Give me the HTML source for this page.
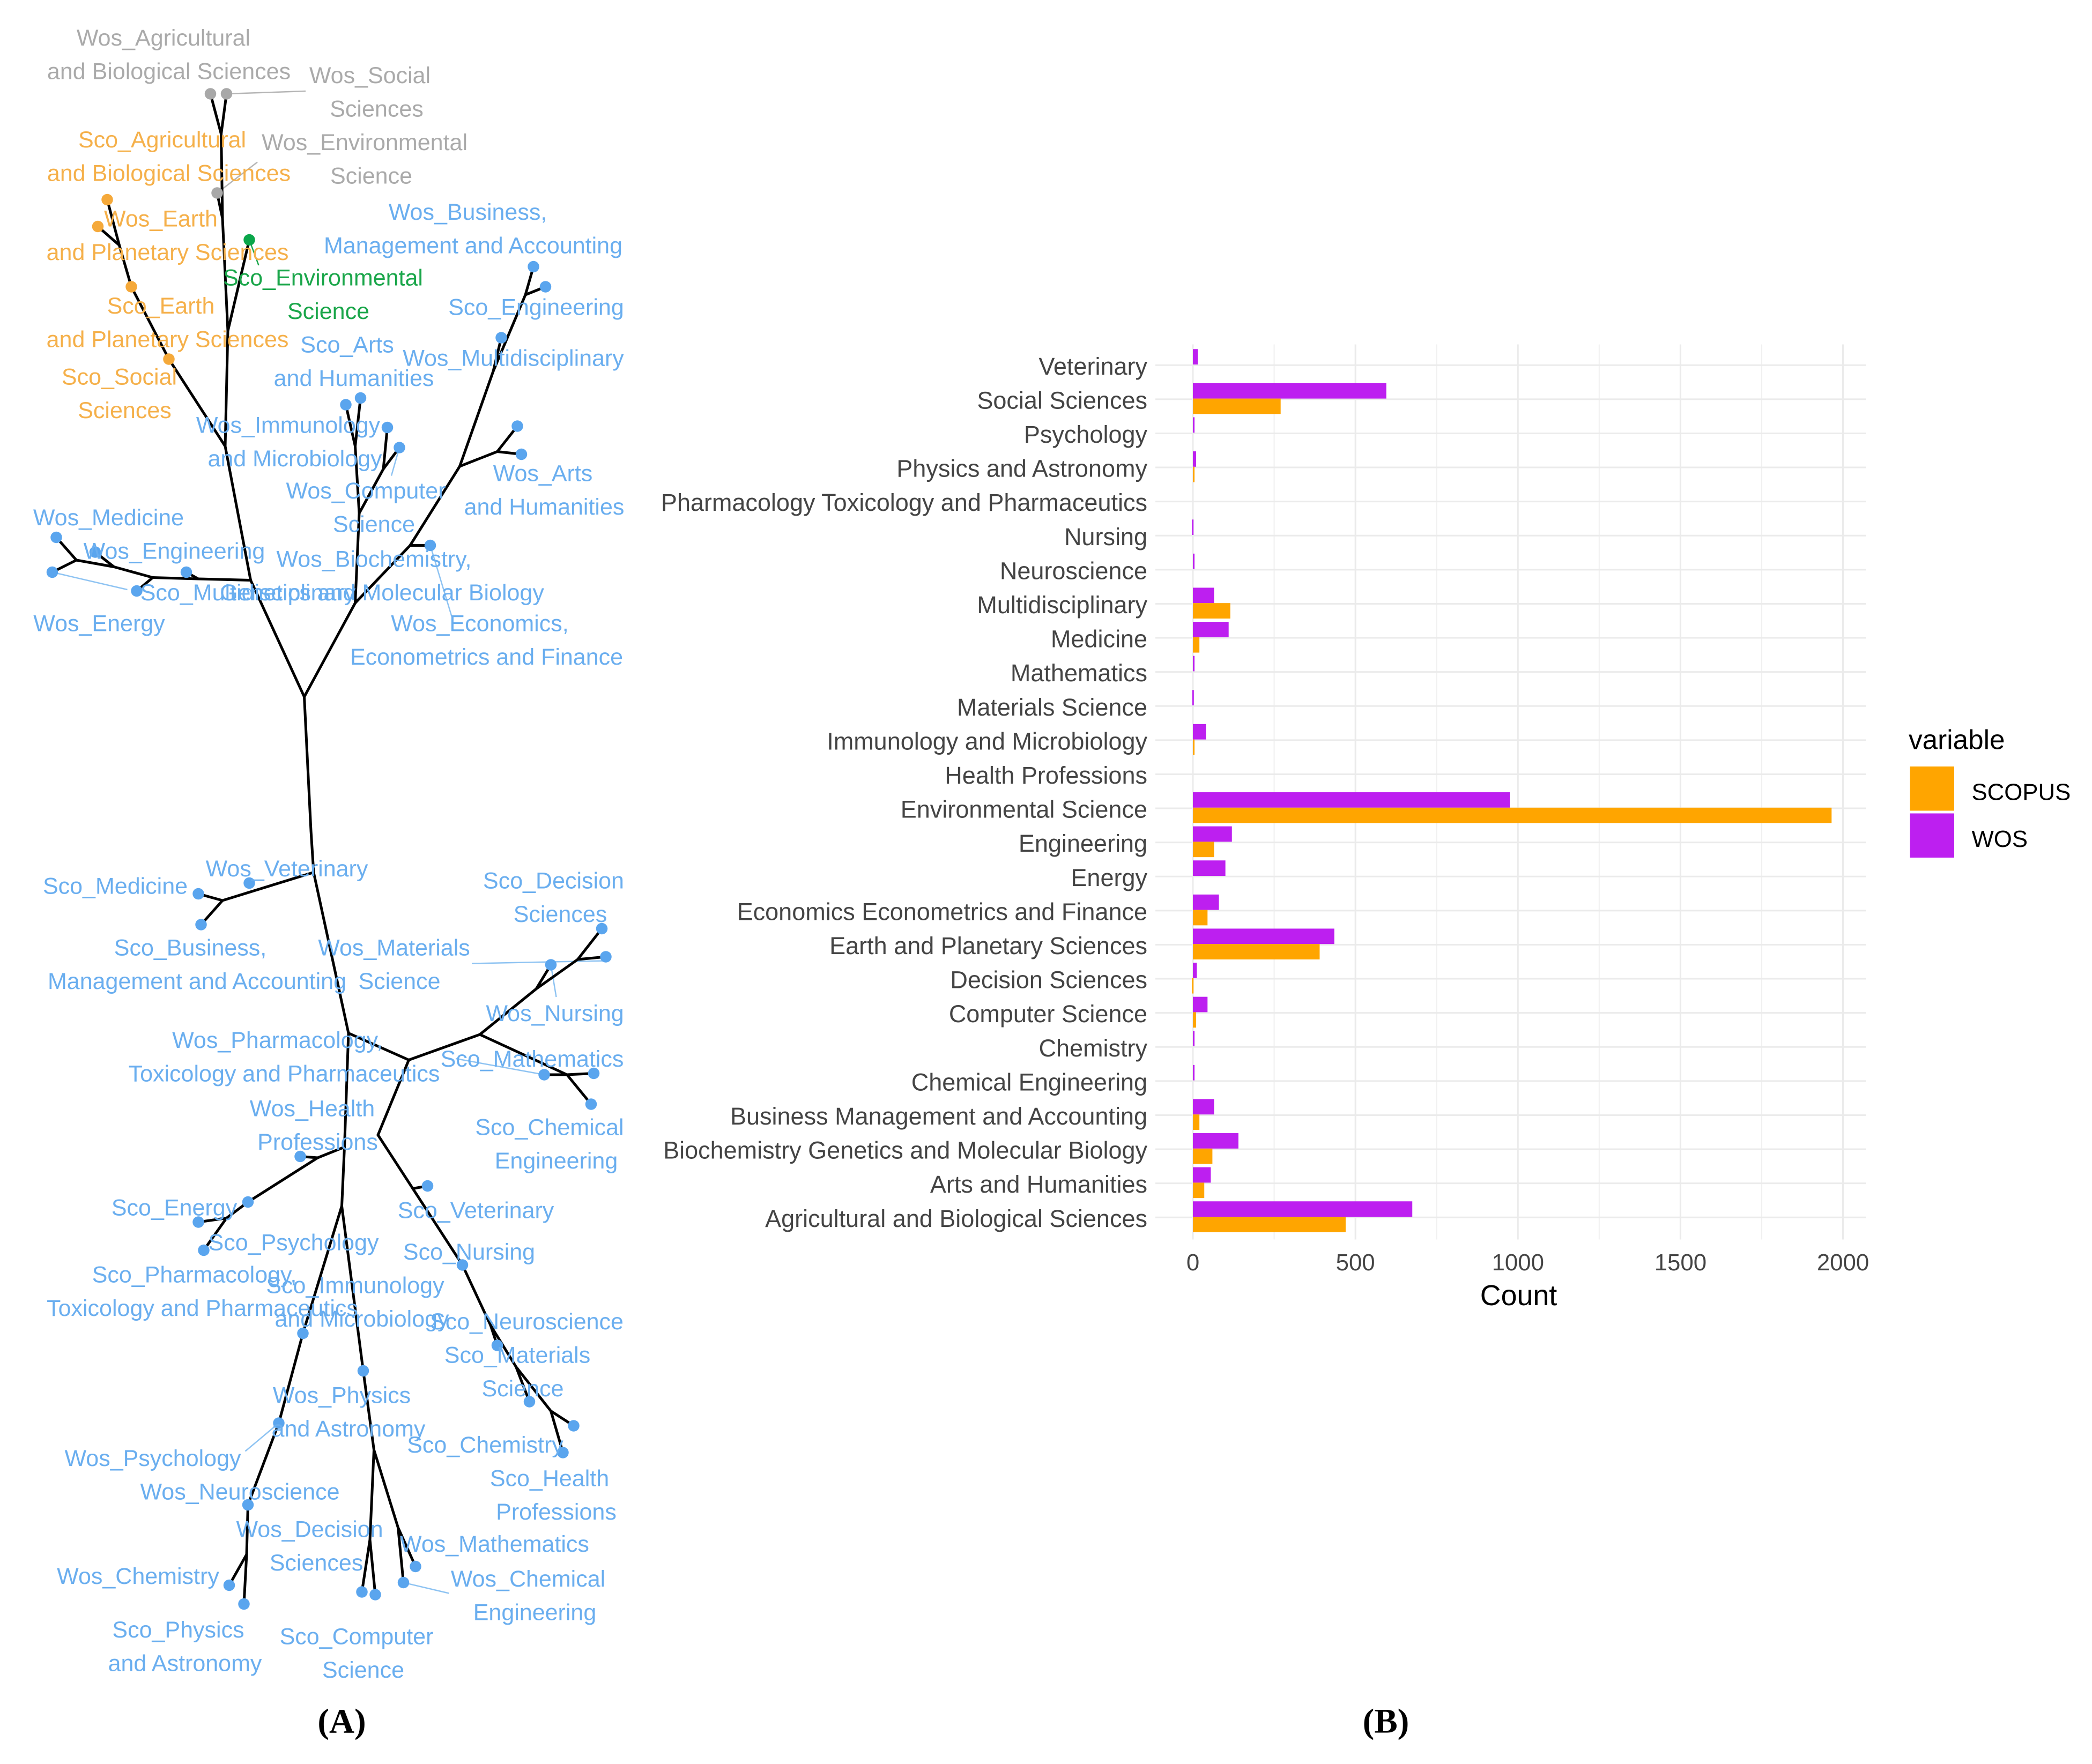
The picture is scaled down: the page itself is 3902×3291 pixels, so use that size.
<!DOCTYPE html>
<html><head><meta charset="utf-8"><style>
html,body{margin:0;padding:0;background:#fff;}
svg{display:block;}
.t{font-family:"Liberation Sans",sans-serif;font-size:17.2px;text-anchor:middle;}
.b{fill:#6aaeef}.o{fill:#f5b04a}.g{fill:#aaaaaa}.gr{fill:#1aa64a}
.cat{font-family:"Liberation Sans",sans-serif;font-size:18px;fill:#444;text-anchor:end;}
</style></head><body>
<svg id="fig" width="3902" height="3291" viewBox="0 0 1560.8 1316.4" xmlns="http://www.w3.org/2000/svg">
<rect width="1560.8" height="1316.4" fill="#fff"/>
<g id="tree"></g>
<g id="labels">
<text class="t g" x="122" y="34">Wos_Agricultural</text><text class="t g" x="126" y="59">and Biological Sciences</text>
<text class="t g" x="276" y="62">Wos_Social</text><text class="t g" x="281" y="87">Sciences</text>
<text class="t g" x="272" y="112">Wos_Environmental</text><text class="t g" x="277" y="137">Science</text>
<text class="t o" x="121" y="110">Sco_Agricultural</text><text class="t o" x="126" y="135">and Biological Sciences</text>
<text class="t o" x="120" y="169">Wos_Earth</text><text class="t o" x="125" y="194">and Planetary Sciences</text>
<text class="t o" x="120" y="234">Sco_Earth</text><text class="t o" x="125" y="259">and Planetary Sciences</text>
<text class="t o" x="89" y="287">Sco_Social</text><text class="t o" x="93" y="312">Sciences</text>
<text class="t gr" x="241" y="213">Sco_Environmental</text><text class="t gr" x="245" y="238">Science</text>
<text class="t b" x="349" y="164">Wos_Business,</text><text class="t b" x="353" y="189">Management and Accounting</text>
<text class="t b" x="400" y="235">Sco_Engineering</text>
<text class="t b" x="259" y="263">Sco_Arts</text><text class="t b" x="264" y="288">and Humanities</text>
<text class="t b" x="383" y="273">Wos_Multidisciplinary</text>
<text class="t b" x="215" y="323">Wos_Immunology</text><text class="t b" x="220" y="348">and Microbiology</text>
<text class="t b" x="405" y="359">Wos_Arts</text><text class="t b" x="406" y="384">and Humanities</text>
<text class="t b" x="273" y="372">Wos_Computer</text><text class="t b" x="279" y="397">Science</text>
<text class="t b" x="81" y="392">Wos_Medicine</text>
<text class="t b" x="130" y="417">Wos_Engineering</text>
<text class="t b" x="279" y="423">Wos_Biochemistry,</text>
<text class="t b" x="185" y="448">Sco_Multidisciplinary</text><text class="t b" x="285" y="448">Genetics and Molecular Biology</text>
<text class="t b" x="74" y="471">Wos_Energy</text>
<text class="t b" x="358" y="471">Wos_Economics,</text><text class="t b" x="363" y="496">Econometrics and Finance</text>
<text class="t b" x="86" y="667">Sco_Medicine</text>
<text class="t b" x="214" y="654">Wos_Veterinary</text>
<text class="t b" x="413" y="663">Sco_Decision</text><text class="t b" x="418" y="688">Sciences</text>
<text class="t b" x="142" y="713">Sco_Business,</text><text class="t b" x="147" y="738">Management and Accounting</text>
<text class="t b" x="294" y="713">Wos_Materials</text><text class="t b" x="298" y="738">Science</text>
<text class="t b" x="414" y="762">Wos_Nursing</text>
<text class="t b" x="207" y="782">Wos_Pharmacology,</text><text class="t b" x="212" y="807">Toxicology and Pharmaceutics</text>
<text class="t b" x="397" y="796">Sco_Mathematics</text>
<text class="t b" x="233" y="833">Wos_Health</text><text class="t b" x="237" y="858">Professions</text>
<text class="t b" x="410" y="847">Sco_Chemical</text><text class="t b" x="415" y="872">Engineering</text>
<text class="t b" x="130" y="907">Sco_Energy</text>
<text class="t b" x="355" y="909">Sco_Veterinary</text>
<text class="t b" x="219" y="933">Sco_Psychology</text>
<text class="t b" x="350" y="940">Sco_Nursing</text>
<text class="t b" x="145" y="957">Sco_Pharmacology,</text><text class="t b" x="151" y="982">Toxicology and Pharmaceutics</text>
<text class="t b" x="265" y="965">Sco_Immunology</text><text class="t b" x="270" y="990">and Microbiology</text>
<text class="t b" x="393" y="992">Sco_Neuroscience</text>
<text class="t b" x="386" y="1017">Sco_Materials</text><text class="t b" x="390" y="1042">Science</text>
<text class="t b" x="255" y="1047">Wos_Physics</text><text class="t b" x="260" y="1072">and Astronomy</text>
<text class="t b" x="362" y="1084">Sco_Chemistry</text>
<text class="t b" x="114" y="1094">Wos_Psychology</text>
<text class="t b" x="410" y="1109">Sco_Health</text><text class="t b" x="415" y="1134">Professions</text>
<text class="t b" x="179" y="1119">Wos_Neuroscience</text>
<text class="t b" x="231" y="1147">Wos_Decision</text><text class="t b" x="236" y="1172">Sciences</text>
<text class="t b" x="369" y="1158">Wos_Mathematics</text>
<text class="t b" x="103" y="1182">Wos_Chemistry</text>
<text class="t b" x="394" y="1184">Wos_Chemical</text><text class="t b" x="399" y="1209">Engineering</text>
<text class="t b" x="133" y="1222">Sco_Physics</text><text class="t b" x="138" y="1247">and Astronomy</text>
<text class="t b" x="266" y="1227">Sco_Computer</text><text class="t b" x="271" y="1252">Science</text>
</g>
<g id="bars"></g>
<g>
<text x="1424" y="559" font-family="Liberation Sans, sans-serif" font-size="20.5" fill="#000">variable</text>
<rect x="1425" y="572" width="33" height="33" fill="#ffa500"/>
<rect x="1425" y="607" width="33" height="33" fill="#bd1ff0"/>
<text x="1471" y="597" font-family="Liberation Sans, sans-serif" font-size="17.5" fill="#000">SCOPUS</text>
<text x="1471" y="632" font-family="Liberation Sans, sans-serif" font-size="17.5" fill="#000">WOS</text>
</g>
<text x="255" y="1293" text-anchor="middle" font-family="Liberation Serif, serif" font-weight="bold" font-size="26">(A)</text>
<text x="1034" y="1293" text-anchor="middle" font-family="Liberation Serif, serif" font-weight="bold" font-size="26">(B)</text>
</svg>
<script>
const categories=["Veterinary","Social Sciences","Psychology","Physics and Astronomy","Pharmacology Toxicology and Pharmaceutics","Nursing","Neuroscience","Multidisciplinary","Medicine","Mathematics","Materials Science","Immunology and Microbiology","Health Professions","Environmental Science","Engineering","Energy","Economics Econometrics and Finance","Earth and Planetary Sciences","Decision Sciences","Computer Science","Chemistry","Chemical Engineering","Business Management and Accounting","Biochemistry Genetics and Molecular Biology","Arts and Humanities","Agricultural and Biological Sciences"];
const wosValues=[15,595,3,10,0,-3,3,65,110,3,-2,40,0,975,120,100,80,435,12,45,3,3,65,140,55,675];
const scopusValues=[0,270,0,3,0,0,0,115,20,0,0,3,0,1965,65,0,45,390,-3,10,0,0,20,60,35,470];
const tickValues=[0,500,1000,1500,2000];
const minorTicks=[250,750,1250,1750];

const NS="http://www.w3.org/2000/svg";
function mk(tag,attrs,parent){const e=document.createElementNS(NS,tag);for(const k in attrs)e.setAttribute(k,attrs[k]);parent.appendChild(e);return e;}
const bars=document.getElementById('bars');
const xS=v=>890+v*0.2425;
const yTop=273.5, yBot=909.5;
const yS=i=>yTop+i*(yBot-yTop)/(categories.length-1);
const plotL=862, plotR=1392, plotT=257, plotB=925;
minorTicks.forEach(v=>{const l=mk('line',{x1:xS(v),x2:xS(v),y1:plotT,y2:plotB,stroke:'#f0f0f0','stroke-width':0.8},bars);

});
tickValues.forEach(v=>{const l=mk('line',{x1:xS(v),x2:xS(v),y1:plotT,y2:plotB,stroke:'#ebebeb','stroke-width':1.2},bars);


const t=mk('text',{x:xS(v),y:948,'text-anchor':'middle','font-family':'Liberation Sans, sans-serif','font-size':17.5,fill:'#444'},bars);
t.textContent=v;

});
categories.forEach((c,i)=>{const yc=yS(i)-1;
const l=mk('line',{x1:plotL,x2:plotR,y1:yc,y2:yc,stroke:'#ebebeb','stroke-width':1.2},bars);


const t=mk('text',{x:856,y:yS(i)+6,class:'cat'},bars);t.textContent=c;

});
categories.forEach((c,i)=>{const yc=yS(i)-1.5;
const w=wosValues[i], s=scopusValues[i];
const bw=mk('rect',{x:Math.min(xS(0),xS(w)),y:yc-11.5,width:Math.max(Math.abs(xS(w)-xS(0)),w!==0?1.2:0),height:11.5,fill:'#bd1ff0'},bars);


const bs=mk('rect',{x:Math.min(xS(0),xS(s)),y:yc,width:Math.max(Math.abs(xS(s)-xS(0)),s!==0?1.2:0),height:11.5,fill:'#ffa500'},bars);

});
const xt=mk('text',{x:1133,y:974,'text-anchor':'middle','font-family':'Liberation Sans, sans-serif','font-size':21.5,fill:'#000'},bars);
xt.textContent='Count';



const tree=document.getElementById('tree');
const edges=[
[227,520,187,433],[187,433,168,333],[168,333,170,247],[170,247,166,163],[166,163,165,100],[165,100,157,70],[165,100,169,70],[166,163,162,144],[170,247,186,179],
[168,333,126,268],[126,268,98,214],[98,214,89,183],[89,183,80,149],[89,183,73,169],
[187,433,148,432],[148,432,114,431],[114,431,85,423],[85,423,57,418],[148,432,139,427],[114,431,102,441],[85,423,71,412],[57,418,42,401],[57,418,39,427],
[227,520,265,450],[265,450,268,383],[268,383,265,333],[265,333,258,302],[265,333,269,297],[268,383,286,350],[286,350,289,319],[286,350,298,334],
[265,450,306,407],[306,407,321,407],[306,407,343,348],[343,348,371,337],[371,337,386,318],[371,337,389,339],[343,348,368,277],[368,277,374,252],[368,277,392,220],[392,220,398,199],[392,220,407,214],
[227,520,232,620],[232,620,234,651],[234,651,166,672],[166,672,148,667],[166,672,150,690],
[234,651,260,771],[260,771,305,791],[305,791,358,772],[358,772,400,738],[400,738,431,716],[400,738,411,720],[431,716,449,693],[431,716,452,714],[358,772,423,802],[423,802,406,802],[423,802,443,801],[423,802,441,824],
[305,791,282,847],[282,847,308,887],[308,887,319,885],[308,887,345,944],[345,944,366,989],[366,989,371,1004],[366,989,385,1020],[385,1020,395,1046],[385,1020,411,1053],[411,1053,428,1064],[411,1053,420,1084],
[260,771,257,856],[257,856,237,864],[237,864,224,863],[237,864,185,897],[185,897,169,909],[169,909,148,912],[169,909,152,933],
[257,856,255,900],[255,900,226,995],[226,995,208,1062],[208,1062,185,1123],[185,1123,184,1160],[184,1160,171,1183],[184,1160,182,1197],
[255,900,271,1023],[271,1023,279,1082],[279,1082,276,1149],[276,1149,270,1188],[276,1149,280,1190],[279,1082,297,1140],[297,1140,310,1169],[297,1140,301,1181]];
const leaders=[[169,70,228,68,'#b5b5b5'],[162,144,192,121,'#b5b5b5'],[186,179,193,198,'#1aa64a'],[39,427,95,440,'#8ec3f2'],[321,407,337,460,'#8ec3f2'],[298,334,292,355,'#8ec3f2'],
[352,719,452,717,'#8ec3f2'],[411,720,415,744,'#8ec3f2'],[406,802,340,790,'#8ec3f2'],[208,1062,183,1083,'#8ec3f2'],[301,1181,335,1189,'#8ec3f2']];
const nodes=[[157,70,'#a8a8a8'],[169,70,'#a8a8a8'],[162,144,'#a8a8a8'],[186,179,'#0aa64a'],[80,149,'#f5a93a'],[73,169,'#f5a93a'],[98,214,'#f5a93a'],[126,268,'#f5a93a'],
[139,427],[102,441],[71,412],[42,401],[39,427],[258,302],[269,297],[289,319],[298,334],[321,407],[386,318],[389,339],[374,252],[398,199],[407,214],
[148,667],[150,690],[186,659],[411,720],[449,693],[452,714],[406,802],[443,801],[441,824],[319,885],[345,944],[371,1004],[395,1046],[428,1064],[420,1084],
[224,863],[185,897],[148,912],[152,933],[226,995],[208,1062],[185,1123],[171,1183],[182,1197],[271,1023],[270,1188],[280,1190],[310,1169],[301,1181]];
leaders.forEach(l=>{const e=mk('line',{x1:l[0],y1:l[1],x2:l[2],y2:l[3],stroke:l[4],'stroke-width':1},tree);

});
edges.forEach(l=>{const e=mk('line',{x1:l[0],y1:l[1],x2:l[2],y2:l[3],stroke:'#000','stroke-width':2,'stroke-linecap':'round'},tree);

});
nodes.forEach(n=>{const e=mk('circle',{cx:n[0],cy:n[1],r:4.3,fill:n[2]||'#5aa5ee'},tree);

});
</script>
</body></html>
